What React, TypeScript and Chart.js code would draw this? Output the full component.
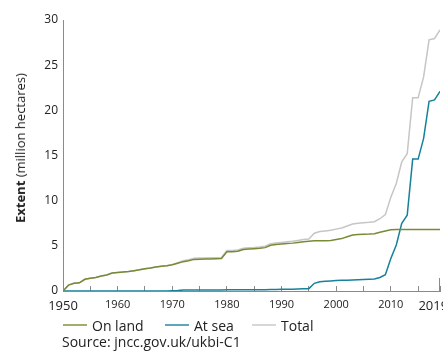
import React, { useEffect, useRef } from "react";
import { Chart, registerables } from "chart.js";

Chart.register(...registerables);

const years = [
  1950, 1951, 1952, 1953, 1954, 1955, 1956, 1957, 1958, 1959,
  1960, 1961, 1962, 1963, 1964, 1965, 1966, 1967, 1968, 1969,
  1970, 1971, 1972, 1973, 1974, 1975, 1976, 1977, 1978, 1979,
  1980, 1981, 1982, 1983, 1984, 1985, 1986, 1987, 1988, 1989,
  1990, 1991, 1992, 1993, 1994, 1995, 1996, 1997, 1998, 1999,
  2000, 2001, 2002, 2003, 2004, 2005, 2006, 2007, 2008, 2009,
  2010, 2011, 2012, 2013, 2014, 2015, 2016, 2017, 2018, 2019,
];

const onLand = [
  0, 0.65, 0.85, 0.9, 1.3, 1.4, 1.5, 1.65, 1.77, 2.0,
  2.05, 2.1, 2.15, 2.25, 2.35, 2.47, 2.55, 2.65, 2.75, 2.8,
  2.9, 3.07, 3.25, 3.35, 3.5, 3.52, 3.54, 3.55, 3.57, 3.6,
  4.35, 4.35, 4.4, 4.6, 4.65, 4.68, 4.72, 4.8, 5.06, 5.15,
  5.2, 5.25, 5.3, 5.38, 5.45, 5.5, 5.55, 5.56, 5.57, 5.6,
  5.7, 5.8, 6.0, 6.2, 6.25, 6.28, 6.3, 6.35, 6.5, 6.65,
  6.78, 6.8, 6.8, 6.8, 6.8, 6.8, 6.8, 6.8, 6.8, 6.8,
];

const atSea = [
  0, 0, 0, 0, 0, 0, 0, 0, 0, 0,
  0, 0, 0, 0, 0, 0, 0, 0, 0, 0,
  0.02, 0.05, 0.1, 0.12, 0.12, 0.12, 0.12, 0.12, 0.12, 0.12,
  0.13, 0.13, 0.13, 0.13, 0.14, 0.14, 0.15, 0.15, 0.16, 0.17,
  0.18, 0.19, 0.2, 0.22, 0.24, 0.26, 0.85, 1.03, 1.08, 1.12,
  1.15, 1.18, 1.2, 1.22, 1.25, 1.27, 1.3, 1.32, 1.5, 1.8,
  3.6, 5.1, 7.5, 8.4, 14.6, 14.6, 16.9, 21.0, 21.15, 22.1,
];

const total = [
  0, 0.65, 0.85, 0.9, 1.3, 1.4, 1.5, 1.65, 1.77, 2.0,
  2.05, 2.1, 2.15, 2.25, 2.35, 2.47, 2.55, 2.65, 2.75, 2.8,
  2.92, 3.12, 3.35, 3.47, 3.62, 3.64, 3.66, 3.67, 3.69, 3.72,
  4.48, 4.48, 4.53, 4.73, 4.79, 4.82, 4.87, 4.95, 5.22, 5.32,
  5.38, 5.44, 5.5, 5.6, 5.69, 5.76, 6.4, 6.59, 6.65, 6.72,
  6.85, 6.98, 7.2, 7.42, 7.5, 7.55, 7.6, 7.67, 8.0, 8.45,
  10.38, 11.9, 14.3, 15.2, 21.4, 21.4, 23.7, 27.8, 27.95, 28.9,
];

const xTicks = [1950, 1955, 1960, 1965, 1970, 1975, 1980, 1985, 1990, 1995, 2000, 2005, 2010, 2015, 2019];
const xLabelled = [1950, 1960, 1970, 1980, 1990, 2000, 2010, 2019];
const xBigLabels = [1950, 2019];
const xEndYear = 2019;
const yTicks = [0, 5, 10, 15, 20, 25, 30];

const seriesNames = ["On land", "At sea", "Total"];
const seriesColors = ["#778a35", "#17819b", "#c6c6c6"];
const seriesValues = [onLand, atSea, total];

const FONT = "'Open Sans', 'Noto Sans', sans-serif";
const TEXT = "#222";
const AXIS = "#8a8a8a";

const endTickPlugin = {
  id: "endTick",
  afterDraw(chart: any) {
    const x = chart.scales.x;
    const px = Math.round(x.getPixelForValue(xEndYear)) - 0.5;
    const ctx = chart.ctx;
    ctx.save();
    ctx.strokeStyle = AXIS;
    ctx.lineWidth = 1;
    ctx.beginPath();
    ctx.moveTo(px, chart.chartArea.bottom);
    ctx.lineTo(px, chart.chartArea.bottom - 13);
    ctx.stroke();
    ctx.restore();
  },
};

export default function App() {
  const ref = useRef<HTMLCanvasElement | null>(null);

  useEffect(() => {
    if (!ref.current) return;
    const chart = new Chart(ref.current, {
      type: "line",
      data: {
        datasets: seriesNames.map((name, i) => ({
          label: name,
          data: years.map((yr, j) => ({ x: yr, y: seriesValues[i][j] })),
          borderColor: seriesColors[i],
          backgroundColor: seriesColors[i],
          borderWidth: 1.5,
          pointRadius: 0,
          fill: false,
          tension: 0,
        })),
      },
      options: {
        animation: false,
        responsive: false,
        maintainAspectRatio: false,
        layout: { padding: { top: 20, right: 3, bottom: 41, left: 0 } },
        plugins: {
          legend: { display: false },
          tooltip: { enabled: false },
        },
        scales: {
          x: {
            type: "linear",
            min: 1950,
            max: 2019,
            afterBuildTicks: (s: any) => {
              s.ticks = xTicks.map((v) => ({ value: v }));
            },
            afterFit: (s: any) => {
              s.height = 20;
              s.paddingLeft = 0;
              s.paddingRight = 0;
            },
            ticks: {
              autoSkip: false,
              maxRotation: 0,
              padding: 12,
              color: TEXT,
              font: (ctx: any) => ({
                family: FONT,
                size: xBigLabels.includes(ctx.tick?.value) ? 13 : 11,
              }),
              callback: (v: any) =>
                xLabelled.includes(v) ? (v === xEndYear ? String(v) + "    " : String(v)) : "",
            },
            grid: {
              display: true,
              drawOnChartArea: false,
              drawTicks: true,
              tickLength: -5,
              tickColor: AXIS,
              tickWidth: 1,
            },
            border: { display: true, color: AXIS, width: 1 },
          },
          y: {
            min: 0,
            max: 30,
            afterBuildTicks: (s: any) => {
              s.ticks = yTicks.map((v) => ({ value: v }));
            },
            afterFit: (s: any) => {
              s.width = 63;
              s.paddingTop = 0;
              s.paddingBottom = 0;
            },
            ticks: {
              padding: 5,
              color: TEXT,
              font: { family: FONT, size: 12 },
            },
            grid: { display: false, drawTicks: false },
            border: { display: true, color: AXIS, width: 1 },
          },
        },
      },
      plugins: [endTickPlugin],
    });
    return () => chart.destroy();
  }, []);

  return (
    <div
      style={{
        position: "fixed",
        left: 0,
        top: 0,
        width: 443,
        height: 352,
        background: "#fff",
        fontFamily: FONT,
        color: TEXT,
        overflow: "hidden",
      }}
    >
      <canvas ref={ref} width={443} height={352} style={{ display: "block" }} />
      <div
        style={{
          position: "absolute",
          left: 20,
          top: 148,
          transform: "translate(-50%, -50%) rotate(-90deg)",
          whiteSpace: "nowrap",
          fontSize: 13,
          lineHeight: "16px",
        }}
      >
        <b>Extent</b> (million hectares)
      </div>
      {seriesNames.map((name, i) => (
        <div
          key={name}
          style={{
            position: "absolute",
            left: [63, 165, 252][i],
            top: 316,
            height: 18,
            display: "flex",
            alignItems: "center",
            fontSize: 14,
            whiteSpace: "nowrap",
          }}
        >
          <span
            style={{
              display: "inline-block",
              width: 24,
              height: 2,
              background: seriesColors[i],
              opacity: 0.7,
              marginRight: 5,
            }}
          />
          {name}
        </div>
      ))}
      <div
        style={{
          position: "absolute",
          left: 62,
          top: 333,
          fontSize: 14,
          lineHeight: "18px",
          whiteSpace: "nowrap",
        }}
      >
        Source: jncc.gov.uk/ukbi-C1
      </div>
    </div>
  );
}
